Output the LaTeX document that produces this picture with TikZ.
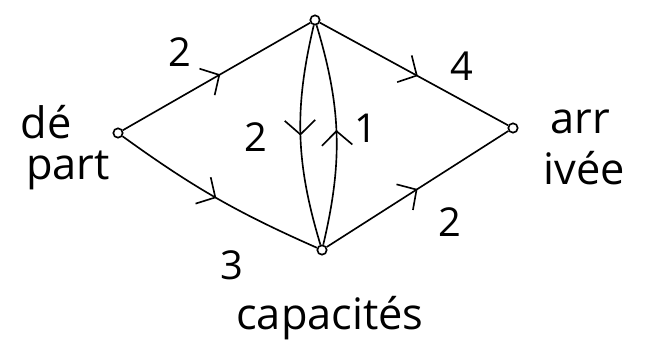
\documentclass[tikz,border=0pt]{standalone}
\usepackage{fontspec}
\setmainfont{Open Sans}
\usepackage{tikz}
\usetikzlibrary{arrows.meta,decorations.markings}

\begin{document}
\begin{tikzpicture}[x=0.03cm, y=-0.03cm, line width=1.4pt,
    vertex/.style={circle, draw, inner sep=0pt, minimum size=8pt},
    flow/.style={postaction={decorate}, decoration={markings,
        mark=at position #1 with {\arrow{Straight Barb[length=12pt,width=26pt,line width=1.4pt]}}}},
    flow/.default=0.5,
    weight/.style={font=\fontsize{34}{36}\selectfont},
    word/.style={font=\fontsize{37}{38}\selectfont, inner sep=0pt}]

    \useasboundingbox (0,0) rectangle (653,356);

    % Vertices
    \node[vertex] (depart) at (118,133) {};
    \node[vertex] (haut) at (315,20) {};
    \node[vertex] (bas) at (322,250) {};
    \node[vertex] (arrivee) at (513,128) {};

    % Edges with their directions
    \draw[flow=0.52] (depart) -- (haut);
    \draw[flow=0.5] (depart) to[bend right=6] (bas);
    \draw[flow=0.52] (haut) -- (arrivee);
    \draw[flow=0.5] (bas) -- (arrivee);
    \draw[flow=0.5] (haut) to[bend right=15] (bas);
    \draw[flow=0.52] (bas) to[bend right=15] (haut);

    % Capacities
    \node[weight] (c2a) at (180,52) {2};
    \node[weight] (c3) at (232,265) {3};
    \node[weight] (c2b) at (256,137) {2};
    \node[weight] (c1) at (366,128) {1};
    \node[weight] (c4) at (462,66) {4};
    \node[weight] (c2c) at (450,222) {2};

    % Words
    \node[word] (de) at (46,122) {dé};
    \node[word] (part) at (68,170) {part};
    \node[word] (arr) at (580,122) {arr};
    \node[word] (ivee) at (584,168) {ivée};
    \node[word] (capa) at (330,318) {capacités};

\end{tikzpicture}
\end{document}
